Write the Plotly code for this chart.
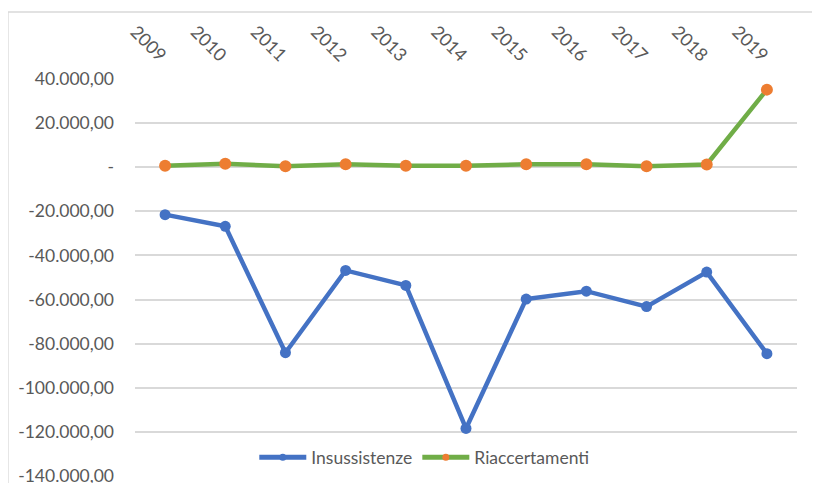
import plotly.graph_objects as go

# Dati
anni = ["2009", "2010", "2011", "2012", "2013", "2014", "2015", "2016", "2017", "2018", "2019"]
insussistenze = [-21500, -26800, -84100, -46800, -53600, -118450, -59800, -56200, -63200, -47550, -84550]
riaccertamenti = [640, 1550, 450, 1360, 640, 640, 1360, 1360, 450, 1230, 35180]

y_ticks = [40000, 20000, 0, -20000, -40000, -60000, -80000, -100000, -120000, -140000]
y_labels = ["40.000,00", "20.000,00", "-", "-20.000,00", "-40.000,00", "-60.000,00",
            "-80.000,00", "-100.000,00", "-120.000,00", "-140.000,00"]

FONT = "Lato"
GREY = "#595959"
BLUE = "#4472C4"
GREEN = "#70AD47"
ORANGE = "#ED7D31"

fig = go.Figure()

fig.add_trace(go.Scatter(x=anni, y=insussistenze,
                         mode="lines+markers",
                         name="Insussistenze",
                         showlegend=False,
                         line=dict(color=BLUE, width=4.5),
                         marker=dict(color=BLUE, size=11)))

fig.add_trace(go.Scatter(x=anni, y=riaccertamenti,
                         mode="lines+markers",
                         name="Riaccertamenti",
                         showlegend=False,
                         line=dict(color=GREEN, width=4.5),
                         marker=dict(color=ORANGE, size=12)))

# voci di legenda (marker piu' piccoli come in Excel)
fig.add_trace(go.Scatter(x=[None], y=[None], mode="lines+markers",
                         name="Insussistenze",
                         line=dict(color=BLUE, width=5),
                         marker=dict(color=BLUE, size=7)))
fig.add_trace(go.Scatter(x=[None], y=[None], mode="lines+markers",
                         name="Riaccertamenti",
                         line=dict(color=GREEN, width=5),
                         marker=dict(color=ORANGE, size=7)))

# bordo del grafico (stile Excel)
fig.add_shape(type="rect", xref="paper", yref="paper",
              x0=-0.192, x1=1.2, y0=-0.2, y1=1.169,
              line=dict(color="#d9d9d9", width=1.5),
              layer="below")

fig.update_xaxes(type="category",
                 side="top",
                 tickangle=45,
                 range=[-0.5, 10.5],
                 automargin=False,
                 showgrid=False,
                 showline=False,
                 zeroline=False,
                 ticklabelstandoff=9,
                 tickfont=dict(family=FONT, size=18, color=GREY))

fig.update_yaxes(range=[-140000, 40000],
                 tickvals=y_ticks,
                 ticktext=y_labels,
                 automargin=False,
                 showgrid=True,
                 gridcolor="#d9d9d9",
                 gridwidth=1.5,
                 zeroline=False,
                 showline=False,
                 ticklabelstandoff=20,
                 tickfont=dict(family=FONT, size=17.5, color=GREY))

# la pagina ha 8px di margine nel body: margini compensati
fig.update_layout(width=820, height=483,
                  plot_bgcolor="white",
                  paper_bgcolor="white",
                  margin={"l": 127, "r": 31, "t": 71, "b": 15},
                  legend=dict(orientation="h",
                              x=0.437, y=0.047,
                              xanchor="center", yanchor="middle",
                              bgcolor="rgba(0,0,0,0)",
                              itemwidth=47,
                              font=dict(family=FONT, size=17.5, color=GREY)),
                  showlegend=True)

fig.write_html("out.html")
